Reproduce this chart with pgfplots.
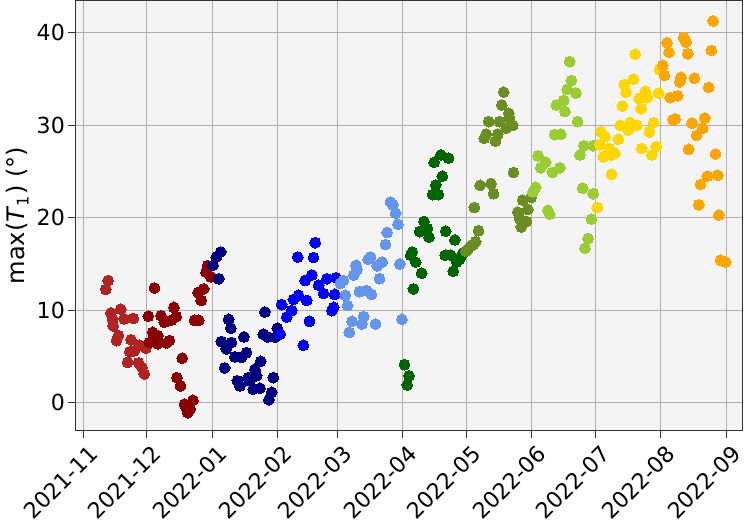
\documentclass[border=0pt]{standalone}
\usepackage{pgfplots}
\pgfplotsset{compat=1.18}
\usepackage{fontspec}
\setmainfont{DejaVu Sans}

\definecolor{bgc}{HTML}{F4F4F4}
\definecolor{gridc}{HTML}{B0B0B0}
\definecolor{firebrick}{HTML}{B22222}
\definecolor{darkred}{HTML}{8B0000}
\definecolor{navy}{HTML}{000080}
\definecolor{pureblue}{HTML}{0000FF}
\definecolor{cornflower}{HTML}{6495ED}
\definecolor{darkgreen}{HTML}{006400}
\definecolor{olivedrab}{HTML}{6B8E23}
\definecolor{yellowgreen}{HTML}{9ACD32}
\definecolor{gold}{HTML}{FFD700}
\definecolor{orange}{HTML}{FFA500}

% x = days since 2021-11-01
\begin{document}
\begin{tikzpicture}
\begin{axis}[
  scale only axis, width=332pt, height=214pt,
  xmin=-3.8, xmax=311.6, ymin=-3.05, ymax=43.5,
  axis background/.style={fill=bgc},
  axis line style={black!80, line width=0.6pt},
  grid=major, grid style={gridc, line width=0.5pt},
  xtick={0,30,61,92,120,151,181,212,242,273,304},
  xticklabels={2021-11,2021-12,2022-01,2022-02,2022-03,2022-04,2022-05,2022-06,2022-07,2022-08,2022-09},
  ytick={0,10,20,30,40},
  tick align=outside, tick pos=left, major tick length=3.5pt,
  tick style={black!80, line width=0.5pt},
  /pgf/number format/assume math mode=true,
  tick label style={font=\fontsize{11}{13}\selectfont},
  xticklabel style={rotate=45, anchor=north east, inner sep=0.5pt, xshift=0pt, yshift=-3pt},
  yticklabel style={inner sep=1.5pt},
  ylabel={max(\textit{T}\textsubscript{1}) (°)},
  ylabel style={font=\fontsize{12}{14}\selectfont, yshift=-1pt},
  every axis plot/.append style={only marks, mark=*, mark size=2.7pt, mark options={line width=0pt}},
]
% Nov
\addplot[color=firebrick] coordinates {
(11.7,13.2)(10.6,12.25)(13.0,9.7)(17.7,10.1)(19.3,9.05)(23.6,9.1)(13.8,9.05)(14.1,8.3)
(16.6,7.25)(15.7,6.7)(22.5,6.8)(22.0,5.5)(24.1,5.6)(26.5,6.2)(29.6,5.9)(20.9,4.35)
(26.1,4.3)(27.7,3.8)(28.8,3.1)};
% Dec
\addplot[color=darkred] coordinates {
(33.6,12.4)(30.7,9.35)(36.7,9.4)(42.8,10.3)(43.9,9.3)(38.3,8.7)(41.5,8.9)(52.6,8.9)
(54.6,8.9)(32.8,7.6)(35.2,7.25)(31.2,6.5)(35.2,6.35)(40.7,6.7)(39.4,6.45)(46.7,4.8)
(44.2,2.7)(45.9,1.8)(47.8,-0.2)(51.8,0.25)(49.4,-1.1)(48.6,-0.5)(50.5,-0.7)
(54.2,11.9)(56.9,12.3)(55.7,11.05)(58.7,14.8)(58.0,14.1)(60.3,13.6)};
% Jan
\addplot[color=navy] coordinates {
(64.9,16.3)(62.9,15.75)(61.3,14.85)(64.0,13.4)(85.8,9.8)(68.7,9.0)(69.7,8.05)(65.2,6.6)
(67.6,5.8)(70.0,6.5)(75.9,7.1)(71.6,4.95)(74.7,4.9)(77.1,5.4)(66.8,3.75)(83.8,4.45)
(85.0,7.4)(87.1,7.1)(90.6,7.05)(91.7,8.05)(72.8,2.35)(74.0,1.8)(77.9,2.7)(81.1,3.6)
(81.9,2.9)(78.7,2.35)(80.3,1.45)(83.5,1.55)(89.8,2.7)(89.0,1.1)(87.7,0.3)};
% Feb
\addplot[color=pureblue] coordinates {
(109.6,17.3)(101.3,15.75)(108.8,15.7)(104.8,13.2)(108.0,13.8)(111.2,12.7)(115.1,13.4)
(113.5,11.8)(101.7,11.6)(105.6,11.05)(99.3,11.15)(93.7,10.6)(98.5,9.95)(96.1,9.25)
(106.9,8.8)(117.5,9.95)(118.3,10.3)(104.0,6.2)(93.0,7.4)(119.4,13.5)(118.8,11.7)};
% Mar
\addplot[color=cornflower] coordinates {
(145.2,21.7)(146.3,21.4)(147.6,20.5)(148.7,19.3)(143.6,18.4)(142.8,17.1)(149.6,15.0)
(135.7,15.75)(134.6,15.5)(141.2,15.2)(138.9,14.8)(140.0,13.4)(128.9,14.85)(129.4,14.4)
(127.8,13.8)(123.0,13.2)(121.5,12.9)(130.5,12.0)(133.8,12.1)(136.2,11.7)(123.8,11.6)
(124.9,10.5)(127.0,8.8)(131.7,8.5)(132.5,9.3)(138.1,8.5)(125.7,7.6)(150.6,9.0)};
% Apr
\addplot[color=darkgreen] coordinates {
(151.8,4.1)(153.9,2.9)(153.1,1.9)(154.7,15.95)(155.5,16.3)(157.1,15.2)(159.9,14.0)
(156.0,12.3)(161.0,19.6)(159.0,18.5)(162.6,18.8)(163.4,17.9)(165.8,26.0)(169.0,26.8)
(172.6,26.45)(169.7,24.5)(166.6,23.55)(165.1,22.5)(167.8,22.5)(171.3,18.55)(175.6,17.6)
(171.0,15.95)(173.7,15.95)(177.7,15.5)(174.8,14.2)(176.5,15.2)(178.5,15.8)(179.5,16.2)};
% May
\addplot[color=olivedrab] coordinates {
(198.7,33.6)(197.8,32.2)(201.1,31.3)(201.4,30.8)(203.0,30.0)(199.9,29.7)(196.7,30.4)
(191.6,30.4)(195.9,29.05)(190.4,29.05)(189.5,28.6)(194.8,28.3)(203.3,24.9)(187.5,23.5)
(192.7,23.7)(193.9,22.6)(184.8,21.1)(186.8,18.6)(180.8,16.4)(181.8,16.6)(183.0,16.9)
(184.2,17.1)(185.4,17.4)(207.7,21.9)(211.7,22.2)(210.1,20.9)(205.4,20.6)(206.2,19.9)
(209.4,19.6)(207.0,19.0)};
% Jun
\addplot[color=yellowgreen] coordinates {
(229.9,36.9)(230.7,34.85)(228.7,33.9)(232.8,33.5)(223.6,32.2)(227.1,32.7)(227.6,31.5)
(233.6,30.4)(222.8,29.0)(225.7,29.05)(236.6,27.8)(241.0,27.8)(234.7,26.8)(214.9,26.7)
(218.5,26.0)(216.2,25.4)(221.7,24.9)(225.2,25.4)(213.8,23.3)(212.5,22.8)(236.0,23.2)
(241.0,22.6)(219.6,20.8)(220.4,20.4)(240.2,19.85)(238.6,17.75)(237.1,16.7)};
% Jul
\addplot[color=gold] coordinates {
(260.8,37.7)(272.4,36.05)(260.0,35.0)(255.7,34.4)(256.5,33.6)(265.6,33.7)(262.7,32.9)
(266.6,33.0)(271.9,33.5)(263.7,31.8)(254.8,32.1)(253.7,30.0)(258.4,30.3)(261.6,30.0)
(257.6,29.5)(269.5,30.3)(267.6,29.3)(244.7,29.3)(246.6,28.8)(244.2,27.9)(252.9,28.5)
(248.6,27.5)(251.3,27.0)(245.8,26.6)(249.7,26.8)(263.9,27.5)(270.8,27.7)(268.7,26.8)
(249.7,24.7)(242.9,21.1)};
% Aug
\addplot[color=orange] coordinates {
(297.7,41.3)(275.9,38.95)(283.8,39.5)(284.9,39.0)(276.8,37.9)(285.7,37.75)(296.8,38.1)
(273.9,36.5)(274.7,35.4)(282.5,35.2)(281.9,34.7)(288.8,35.1)(295.6,34.1)(277.4,33.0)
(280.9,33.2)(278.7,30.6)(279.8,30.7)(287.7,30.25)(293.7,30.8)(292.8,29.7)(289.8,28.9)
(286.1,27.4)(298.8,26.9)(294.9,24.5)(299.9,24.6)(291.7,23.6)(290.9,21.4)(300.4,20.3)
(301.2,15.4)(303.6,15.2)};
\end{axis}
\end{tikzpicture}
\end{document}
